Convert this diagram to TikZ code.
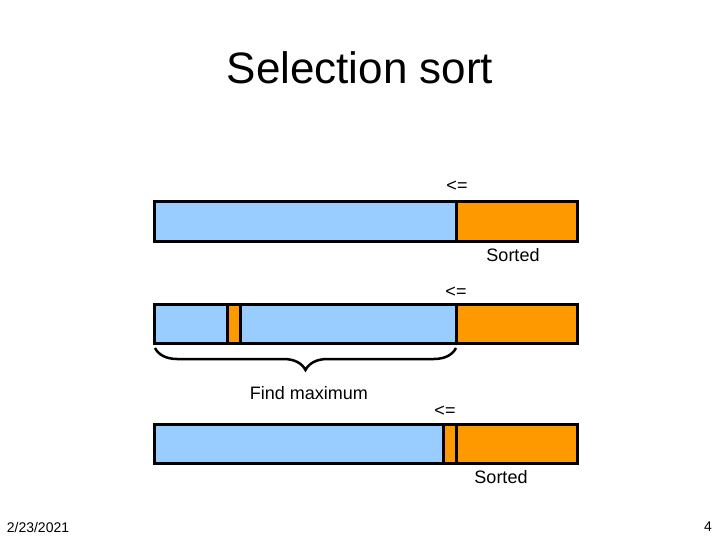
\documentclass[tikz,border=0pt]{standalone}
\usepackage{fontspec}
\setmainfont{Liberation Sans}
\usetikzlibrary{decorations.pathreplacing}
\definecolor{lblue}{HTML}{99CCFF}
\definecolor{sorange}{HTML}{FF9900}
\begin{document}
\begin{tikzpicture}[x=1pt,y=-1pt,
  seg/.style={draw=black,line width=3pt,inner sep=0pt,outer sep=0pt,minimum height=39pt,anchor=west},
  bluseg/.style={seg,fill=lblue},
  orgseg/.style={seg,fill=sorange},
  lbl/.style={font=\fontsize{18pt}{20pt}\selectfont,inner sep=0pt}]
\useasboundingbox[fill=white] (0,0) rectangle (720,540);
\node[font=\fontsize{44pt}{48pt}\selectfont,inner sep=0pt] (title) at (360,68) {Selection sort};
% bar 1
\node[bluseg,minimum width=302pt] (b1a) at (154,221.5) {};
\node[orgseg,minimum width=121pt] (b1b) at (456,221.5) {};
\node[lbl] (le1) at (457,186) {<=};
\node[lbl] (s1) at (513,255) {Sorted};
% bar 2
\node[bluseg,minimum width=73pt] (b2a) at (154,323.5) {};
\node[orgseg,minimum width=13pt] (b2b) at (227,323.5) {};
\node[bluseg,minimum width=216pt] (b2c) at (240,323.5) {};
\node[orgseg,minimum width=121pt] (b2d) at (456,323.5) {};
\node[lbl] (le2) at (456,292) {<=};
\coordinate (brL) at (155,348);
\coordinate (brR) at (456,348);
\draw[line width=2.5pt,decorate,decoration={brace,amplitude=22pt,raise=0pt}] (brR) -- (brL);
\node[lbl] (fm) at (309,393) {Find maximum};
% bar 3
\node[bluseg,minimum width=289pt] (b3a) at (154,443.5) {};
\node[orgseg,minimum width=13pt] (b3b) at (443,443.5) {};
\node[orgseg,minimum width=121pt] (b3c) at (456,443.5) {};
\node[lbl] (le3) at (445,411) {<=};
\node[lbl] (s3) at (501,477) {Sorted};
% footer
\node[font=\fontsize{14pt}{16pt}\selectfont,inner sep=0pt] (date) at (38,527) {2/23/2021};
\node[font=\fontsize{14pt}{16pt}\selectfont,inner sep=0pt] (pg) at (708,527) {4};
\end{tikzpicture}
\end{document}
